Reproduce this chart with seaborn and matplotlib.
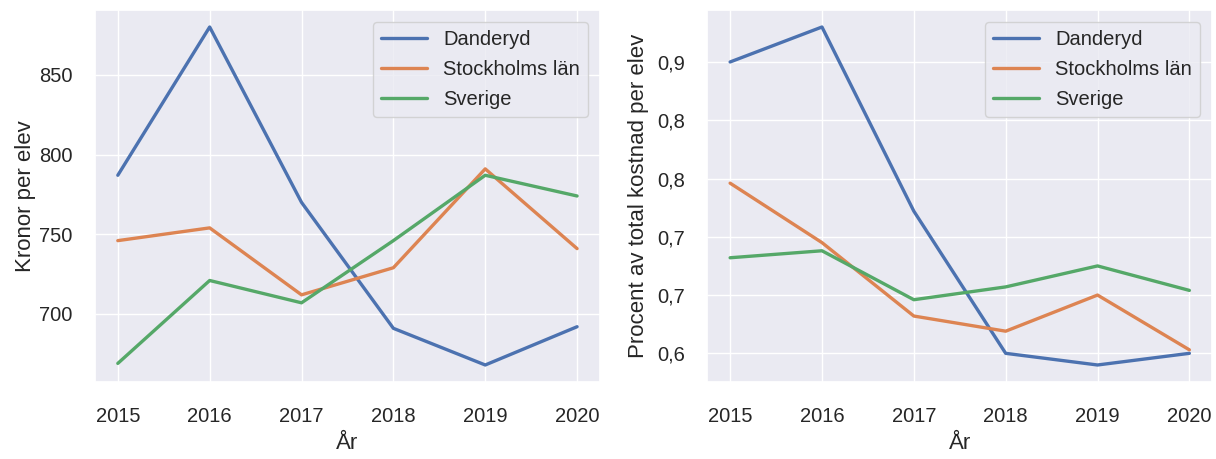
import numpy as np
import pandas as pd
import matplotlib
matplotlib.use('Agg')
import matplotlib.pyplot as plt
import seaborn as sns

# Data
years = [2015, 2016, 2017, 2018, 2019, 2020]
regions = ['Danderyd', 'Stockholms län', 'Sverige']

kronor_danderyd = [787, 880, 770, 691, 668, 692]
kronor_stockholm = [746, 754, 712, 729, 791, 741]
kronor_sverige = [669, 721, 707, 746, 787, 774]

procent_danderyd = [0.900, 0.930, 0.772, 0.650, 0.640, 0.650]
procent_stockholm = [0.796, 0.745, 0.682, 0.669, 0.700, 0.653]
procent_sverige = [0.732, 0.738, 0.696, 0.707, 0.725, 0.704]

procent_ticks = [0.65, 0.70, 0.75, 0.80, 0.85, 0.90]
procent_ticklabels = ['0,6', '0,7', '0,7', '0,8', '0,8', '0,9']

df_kronor = pd.DataFrame({
    'År': years * 3,
    'Värde': kronor_danderyd + kronor_stockholm + kronor_sverige,
    'Område': [r for r in regions for _ in years],
})
df_procent = pd.DataFrame({
    'År': years * 3,
    'Värde': procent_danderyd + procent_stockholm + procent_sverige,
    'Område': [r for r in regions for _ in years],
})

sns.set_theme(style='darkgrid')
plt.rcParams['font.family'] = ['Liberation Sans', 'DejaVu Sans']

fig, (ax1, ax2) = plt.subplots(1, 2, figsize=(12.16, 4.59), dpi=100)

sns.lineplot(data=df_kronor, x='År', y='Värde', hue='Område', ax=ax1, linewidth=2.4)
ax1.set_ylabel('Kronor per elev')
ax1.set_xlabel('År')
ax1.set_yticks([700, 750, 800, 850])

sns.lineplot(data=df_procent, x='År', y='Värde', hue='Område', ax=ax2, linewidth=2.4)
ax2.set_ylabel('Procent av total kostnad per elev')
ax2.set_xlabel('År')
ax2.set_yticks(procent_ticks)
ax2.set_yticklabels(procent_ticklabels)

for ax in (ax1, ax2):
    ax.legend(title=None, loc='upper right', fontsize=14.5, labelspacing=0.55,
              handlelength=2.3, borderaxespad=0.6)
    ax.tick_params(axis='x', labelsize=14.5, pad=12)
    ax.tick_params(axis='y', labelsize=14.5, pad=10)
    ax.xaxis.label.set_size(16)
    ax.yaxis.label.set_size(16)
    ax.xaxis.labelpad = 5

ax1.yaxis.labelpad = 2
ax2.yaxis.labelpad = 6

plt.subplots_adjust(left=0.078, right=0.997, top=0.978, bottom=0.168, wspace=0.212)
plt.savefig('out.png')
